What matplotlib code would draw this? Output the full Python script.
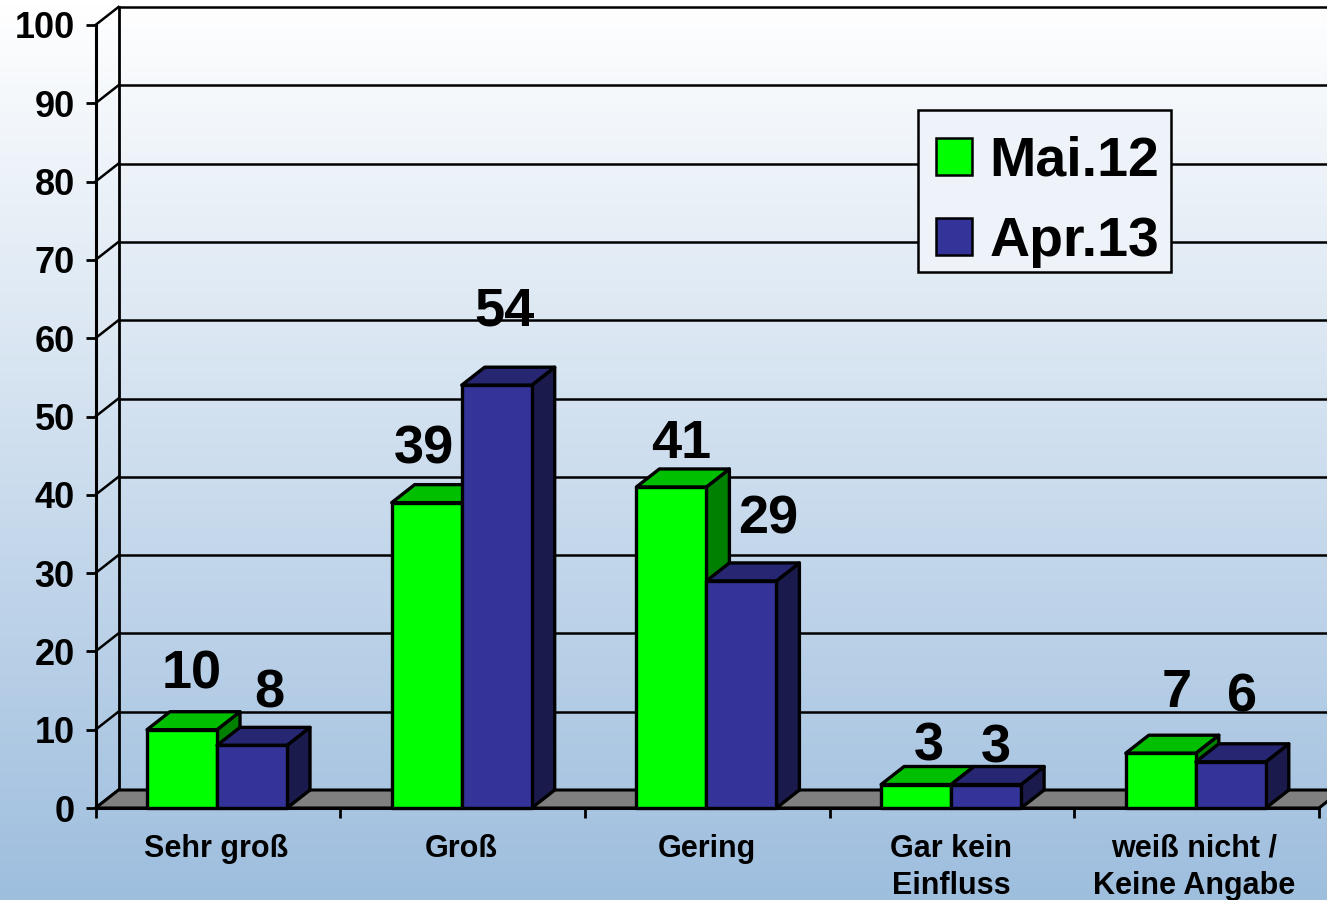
import numpy as np
import matplotlib.pyplot as plt
from matplotlib.patches import Patch, Polygon, Rectangle

plt.rcParams["font.family"] = ["Liberation Sans", "DejaVu Sans"]
plt.rcParams["font.weight"] = "bold"

# Data
categories = ["Sehr groß", "Groß", "Gering", "Gar kein\nEinfluss", "weiß nicht /\nKeine Angabe"]
series_names = ["Mai.12", "Apr.13"]
mai_12 = [10, 39, 41, 3, 7]
apr_13 = [8, 54, 29, 3, 6]
# what is drawn differs a little from the printed number
mai_12_heights = [10, 39, 41, 3, 7]
apr_13_heights = [8, 54, 29, 3, 5.9]
y_ticks = list(range(0, 101, 10))

# label offsets in pixels from the front top centre of each bar
mai_offsets = [(10, 55), (-3, 53), (10, 43), (13, 38), (16, 60)]
apr_offsets = [(17, 52), (8, 74), (27, 61), (10, 36), (11, 64)]
label_pos = [0.492, 1.494, 2.499, 3.496, 4.489]

# colours: front, top, side
green = ("#00ff00", "#00bf00", "#008000")
blue = ("#333399", "#262673", "#1a1a4d")

fig = plt.figure(figsize=(13.27, 9), dpi=100)

# Background gradient
bg = fig.add_axes([0, 0, 1, 1], zorder=0)
grad = np.linspace(0, 1, 256)[:, None, None]
top_col = np.array([1.0, 1.0, 1.0])
bottom_col = np.array([158, 190, 222]) / 255
bg.imshow(top_col + grad * (bottom_col - top_col), aspect="auto", extent=(0, 1, 0, 1))
bg.axis("off")

# Axes is the front plane of the 3d box
step = 244.7
ax = fig.add_axes([95.5 / 1327, 92 / 900, 5 * step / 1327, 783 / 900], zorder=1)
ax.patch.set_alpha(0)
ax.set_xlim(0, 5)
ax.set_ylim(0, 100)
for s in ["top", "right"]:
    ax.spines[s].set_visible(False)
for s in ["left", "bottom"]:
    ax.spines[s].set_linewidth(2.2)
    ax.spines[s].set_zorder(6)

ax.set_yticks(y_ticks)
ax.tick_params(axis="y", length=7, width=2, pad=8, labelsize=26)
ax.set_xticks(range(6))
ax.set_xticklabels([])
ax.tick_params(axis="x", which="major", length=7, width=2)
ax.set_xticks(label_pos, minor=True)
ax.set_xticklabels(categories, minor=True, fontsize=22, linespacing=1.3)
ax.tick_params(axis="x", which="minor", length=0, pad=18.5)

dx = 23 / step
dy = 18 / 7.83
bw = 70 / step
start = 51.5 / step

# Back wall and side wall
for v in y_ticks:
    ax.plot([0, dx], [v, v + dy], color="black", lw=1.8, clip_on=False, zorder=1)
    ax.plot([dx, 5.2], [v + dy, v + dy], color="black", lw=1.8, clip_on=False, zorder=1)
ax.plot([dx, dx], [dy, 100 + dy], color="black", lw=2.0, clip_on=False, zorder=1)

# Floor
ax.add_patch(Polygon([(0, 0), (dx, dy), (5 + dx, dy), (5, 0)], facecolor="#808080",
                     edgecolor="black", lw=2.2, clip_on=False, zorder=2))


def bar3d(x, h, cols, z):
    front = [(x, 0), (x + bw, 0), (x + bw, h), (x, h)]
    top = [(x, h), (x + bw, h), (x + bw + dx, h + dy), (x + dx, h + dy)]
    side = [(x + bw, 0), (x + bw + dx, dy), (x + bw + dx, h + dy), (x + bw, h)]
    for pts, c in [(side, cols[2]), (top, cols[1]), (front, cols[0])]:
        ax.add_patch(Polygon(pts, facecolor=c, edgecolor="black", lw=2.4, joinstyle="round",
                             clip_on=False, zorder=z))


for i in range(5):
    bar3d(i + start, mai_12_heights[i], green, 3)
    bar3d(i + start + bw, apr_13_heights[i], blue, 4)

# Value labels
for i in range(5):
    ax.annotate(str(mai_12[i]), (i + start + bw / 2, mai_12_heights[i]),
                xytext=(mai_offsets[i][0] * 0.72, mai_offsets[i][1] * 0.72),
                textcoords="offset points", ha="center", va="center", fontsize=39, zorder=7)
    ax.annotate(str(apr_13[i]), (i + start + 1.5 * bw, apr_13_heights[i]),
                xytext=(apr_offsets[i][0] * 0.72, apr_offsets[i][1] * 0.72),
                textcoords="offset points", ha="center", va="center", fontsize=39, zorder=7)

# Legend box is separate, the padding is not even on both sides
ax.add_patch(Rectangle((918 / 1327, 1 - 272 / 900), 253 / 1327, 162 / 900, transform=fig.transFigure,
                       facecolor="#eef3f9", edgecolor="black", lw=1.8, clip_on=False, zorder=4.5))
handles = [Patch(facecolor=green[0], edgecolor="black", lw=1.8),
           Patch(facecolor=blue[0], edgecolor="black", lw=1.8)]
leg = ax.legend(handles, series_names, loc="upper left", bbox_to_anchor=(918 / 1327, 1 - 117.5 / 900),
                bbox_transform=fig.transFigure, fontsize=40, frameon=False, borderaxespad=0,
                borderpad=0.33, labelspacing=0.51, handlelength=0.65, handleheight=0.65,
                handletextpad=0.3)
leg.set_zorder(5)

plt.savefig("out.png", dpi=100)
